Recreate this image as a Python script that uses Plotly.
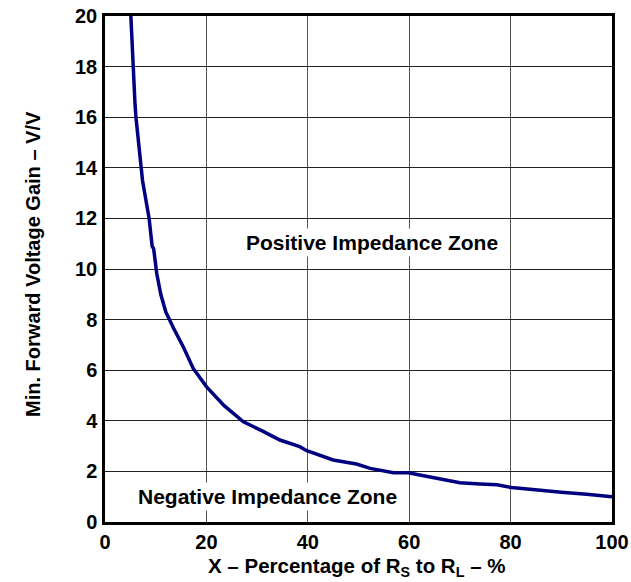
import plotly.graph_objects as go

# Curve data: X (% of Rs to RL) vs min forward voltage gain (V/V)
x_pct = [5.1, 5.5, 5.9, 6.1, 7.2, 7.4, 8.7, 9.3, 9.6, 10.2, 11.0, 12.0, 13.5, 15.5, 17.4, 20.0, 23.5, 27.3, 31.0, 34.5, 38.4, 39.8, 45.0, 49.6, 52.3, 56.9, 59.8, 66.1, 70.0, 74.0, 77.3, 80.2, 84.0, 87.1, 90.0, 95.0, 100.0]
gain = [20.0, 18.0, 16.6, 16.0, 14.0, 13.5, 12.0, 10.9, 10.8, 9.83, 9.0, 8.3, 7.67, 6.9, 6.07, 5.35, 4.6, 3.96, 3.6, 3.24, 2.98, 2.82, 2.45, 2.29, 2.12, 1.95, 1.95, 1.69, 1.55, 1.5, 1.47, 1.36, 1.3, 1.26, 1.18, 1.1, 1.0]

x_ticks = [0, 20, 40, 60, 80, 100]
y_ticks = [0, 2, 4, 6, 8, 10, 12, 14, 16, 18, 20]

fig = go.Figure()
fig.add_trace(go.Scatter(x=x_pct, y=gain, mode="lines",
                         line=dict(color="#000080", width=3.5), hoverinfo="skip"))

font_b = "Liberation Sans, Arial, sans-serif"

fig.add_annotation(x=52.7, y=11.03, text="<b>Positive Impedance Zone</b>", showarrow=False,
                   font=dict(family=font_b, size=21, color="black"), bgcolor="white",
                   borderpad=2)
fig.add_annotation(x=32.0, y=0.99, text="<b>Negative Impedance Zone</b>", showarrow=False,
                   font=dict(family=font_b, size=21, color="black"), bgcolor="white",
                   borderpad=2)

# axis titles
fig.add_annotation(xref="paper", yref="paper", x=0.496, y=0, yshift=-45, yanchor="middle",
                   text="<b>X – Percentage of R<sub>S</sub> to R<sub>L</sub> – %</b>",
                   showarrow=False, font=dict(family=font_b, size=20.5, color="black"))
fig.add_annotation(xref="paper", yref="paper", x=0, xshift=-72, y=0.51, xanchor="center",
                   text="<b>Min. Forward Voltage Gain – V/V</b>", textangle=-90,
                   showarrow=False, font=dict(family=font_b, size=20, color="black"))

fig.update_layout(
    width=631, height=582,
    margin=dict(l=105, r=19, t=16, b=60),
    paper_bgcolor="white", plot_bgcolor="white",
    showlegend=False,
    font=dict(family=font_b, size=20, color="black"),
    xaxis=dict(range=[0, 100], tickvals=x_ticks, ticktext=[f"<b>{v}</b>" for v in x_ticks],
               showgrid=True, gridcolor="#555555", gridwidth=1, zeroline=False,
               showline=True, linecolor="black", linewidth=2.5, mirror=True,
               ticks="", automargin=False),
    yaxis=dict(range=[0, 20], tickvals=y_ticks, ticktext=[f"<b>{v}</b>" for v in y_ticks],
               showgrid=True, gridcolor="#222222", gridwidth=1, zeroline=False,
               showline=True, linecolor="black", linewidth=2.5, mirror=True,
               ticks="outside", ticklen=1, tickcolor="white", automargin=False),
)

fig.write_html("out.html")
